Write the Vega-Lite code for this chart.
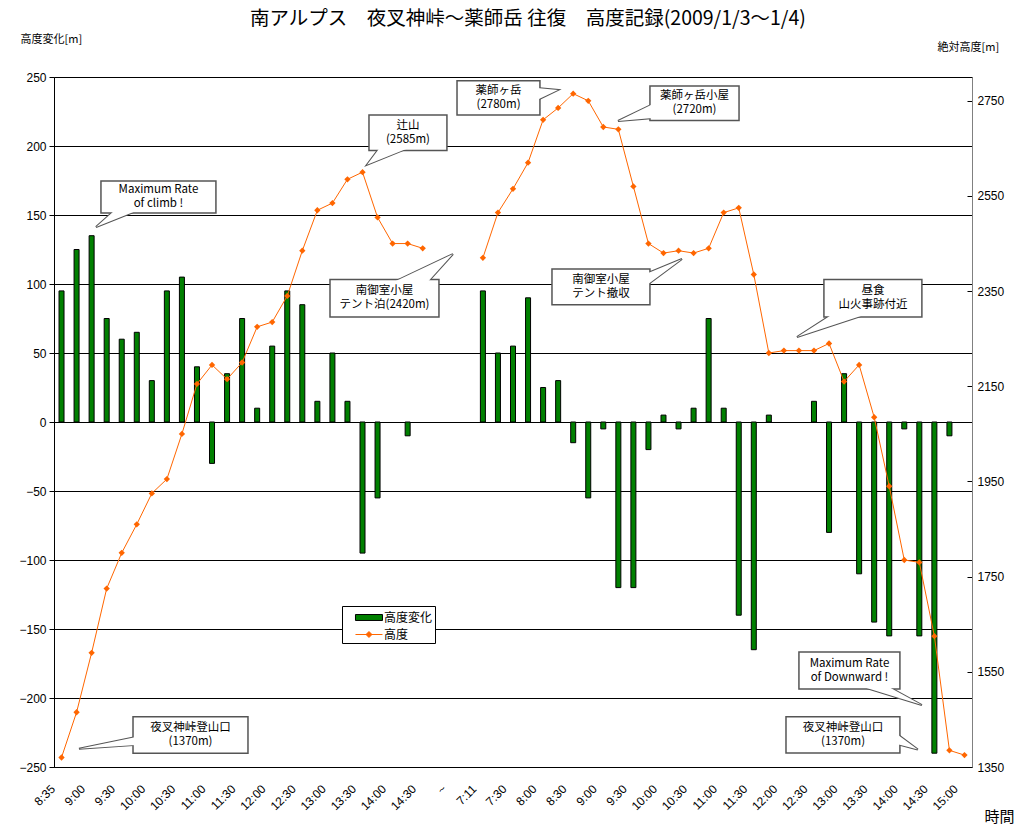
{
  "$schema": "https://vega.github.io/schema/vega-lite/v6.json",
  "width": 918,
  "height": 690,
  "autosize": {"type": "none"},
  "padding": {"left": 54, "top": 77, "right": 54, "bottom": 61},
  "background": "white",
  "title": {
    "text": "南アルプス　夜叉神峠～薬師岳 往復　高度記録(2009/1/3～1/4)",
    "frame": "group",
    "anchor": "middle",
    "baseline": "bottom",
    "offset": 6,
    "dx": 15,
    "dy": 21,
    "font": "Noto Sans CJK JP",
    "fontSize": 19.5,
    "fontWeight": "normal",
    "color": "black"
  },
  "config": {
    "font": "Noto Sans CJK JP",
    "view": {"fill": "#c6c6c6", "stroke": "#808080"}
  },
  "datasets": {
    "main": [
      {"slot": "1 8:35", "day": 1, "change": 95, "alt": 1370},
      {"slot": "1 8:45", "day": 1, "change": 125, "alt": 1465},
      {"slot": "1 9:00", "day": 1, "change": 135, "alt": 1590},
      {"slot": "1 9:15", "day": 1, "change": 75, "alt": 1725},
      {"slot": "1 9:30", "day": 1, "change": 60, "alt": 1800},
      {"slot": "1 9:45", "day": 1, "change": 65, "alt": 1860},
      {"slot": "1 10:00", "day": 1, "change": 30, "alt": 1925},
      {"slot": "1 10:15", "day": 1, "change": 95, "alt": 1955},
      {"slot": "1 10:30", "day": 1, "change": 105, "alt": 2050},
      {"slot": "1 10:45", "day": 1, "change": 40, "alt": 2155},
      {"slot": "1 11:00", "day": 1, "change": -30, "alt": 2195},
      {"slot": "1 11:15", "day": 1, "change": 35, "alt": 2165},
      {"slot": "1 11:30", "day": 1, "change": 75, "alt": 2200},
      {"slot": "1 11:45", "day": 1, "change": 10, "alt": 2275},
      {"slot": "1 12:00", "day": 1, "change": 55, "alt": 2285},
      {"slot": "1 12:15", "day": 1, "change": 95, "alt": 2340},
      {"slot": "1 12:30", "day": 1, "change": 85, "alt": 2435},
      {"slot": "1 12:45", "day": 1, "change": 15, "alt": 2520},
      {"slot": "1 13:00", "day": 1, "change": 50, "alt": 2535},
      {"slot": "1 13:15", "day": 1, "change": 15, "alt": 2585},
      {"slot": "1 13:30", "day": 1, "change": -95, "alt": 2600},
      {"slot": "1 13:45", "day": 1, "change": -55, "alt": 2505},
      {"slot": "1 14:00", "day": 1, "change": null, "alt": 2450},
      {"slot": "1 14:15", "day": 1, "change": -10, "alt": 2450},
      {"slot": "1 14:30", "day": 1, "change": null, "alt": 2440},
      {"slot": "2 7:11", "day": 2, "change": 95, "alt": 2420},
      {"slot": "2 7:20", "day": 2, "change": 50, "alt": 2515},
      {"slot": "2 7:30", "day": 2, "change": 55, "alt": 2565},
      {"slot": "2 7:45", "day": 2, "change": 90, "alt": 2620},
      {"slot": "2 8:00", "day": 2, "change": 25, "alt": 2710},
      {"slot": "2 8:15", "day": 2, "change": 30, "alt": 2735},
      {"slot": "2 8:30", "day": 2, "change": -15, "alt": 2765},
      {"slot": "2 8:45", "day": 2, "change": -55, "alt": 2750},
      {"slot": "2 9:00", "day": 2, "change": -5, "alt": 2695},
      {"slot": "2 9:15", "day": 2, "change": -120, "alt": 2690},
      {"slot": "2 9:30", "day": 2, "change": -120, "alt": 2570},
      {"slot": "2 9:45", "day": 2, "change": -20, "alt": 2450},
      {"slot": "2 10:00", "day": 2, "change": 5, "alt": 2430},
      {"slot": "2 10:15", "day": 2, "change": -5, "alt": 2435},
      {"slot": "2 10:30", "day": 2, "change": 10, "alt": 2430},
      {"slot": "2 10:45", "day": 2, "change": 75, "alt": 2440},
      {"slot": "2 11:00", "day": 2, "change": 10, "alt": 2515},
      {"slot": "2 11:15", "day": 2, "change": -140, "alt": 2525},
      {"slot": "2 11:30", "day": 2, "change": -165, "alt": 2385},
      {"slot": "2 11:45", "day": 2, "change": 5, "alt": 2220},
      {"slot": "2 12:00", "day": 2, "change": null, "alt": 2225},
      {"slot": "2 12:15", "day": 2, "change": null, "alt": 2225},
      {"slot": "2 12:30", "day": 2, "change": 15, "alt": 2225},
      {"slot": "2 12:45", "day": 2, "change": -80, "alt": 2240},
      {"slot": "2 13:00", "day": 2, "change": 35, "alt": 2160},
      {"slot": "2 13:15", "day": 2, "change": -110, "alt": 2195},
      {"slot": "2 13:30", "day": 2, "change": -145, "alt": 2085},
      {"slot": "2 13:45", "day": 2, "change": -155, "alt": 1940},
      {"slot": "2 14:00", "day": 2, "change": -5, "alt": 1785},
      {"slot": "2 14:15", "day": 2, "change": -155, "alt": 1780},
      {"slot": "2 14:30", "day": 2, "change": -240, "alt": 1625},
      {"slot": "2 14:45", "day": 2, "change": -10, "alt": 1385},
      {"slot": "2 15:00", "day": 2, "change": null, "alt": 1375}
    ],
    "boxes": [
      {"id": "b1", "x1": 2.62, "x2": 10.26, "y1": 174.6, "y2": 151.4, "cx": 6.44, "cy": 163, "label": "Maximum Rate\nof climb !"},
      {"id": "b2", "x1": 4.75, "x2": 12.39, "y1": -213.5, "y2": -240.1, "cx": 8.57, "cy": -226.8, "label": "夜叉神峠登山口\n(1370m)"},
      {"id": "b3", "x1": 20.43, "x2": 25.61, "y1": 222.5, "y2": 196.8, "cx": 23.02, "cy": 209.7, "label": "辻山\n(2585m)"},
      {"id": "b4", "x1": 17.84, "x2": 25.08, "y1": 103.3, "y2": 76.1, "cx": 21.46, "cy": 89.7, "label": "南御室小屋\nテント泊(2420m)"},
      {"id": "b5", "x1": 26.28, "x2": 31.79, "y1": 247.3, "y2": 222.5, "cx": 29.04, "cy": 234.9, "label": "薬師ヶ岳\n(2780m)"},
      {"id": "b6", "x1": 39.1, "x2": 45.02, "y1": 243.5, "y2": 218.4, "cx": 42.06, "cy": 231, "label": "薬師ヶ岳小屋\n(2720m)"},
      {"id": "b7", "x1": 32.59, "x2": 39.1, "y1": 110.9, "y2": 85, "cx": 35.85, "cy": 98, "label": "南御室小屋\nテント撤収"},
      {"id": "b8", "x1": 50.66, "x2": 57.17, "y1": 103.3, "y2": 76.1, "cx": 53.92, "cy": 89.7, "label": "昼食\n山火事跡付近"},
      {"id": "b9", "x1": 49.0, "x2": 55.71, "y1": -166.7, "y2": -193.5, "cx": 52.36, "cy": -180.1, "label": "Maximum Rate\nof Downward !"},
      {"id": "b10", "x1": 48.14, "x2": 55.71, "y1": -213.5, "y2": -239.9, "cx": 51.93, "cy": -226.7, "label": "夜叉神峠登山口\n(1370m)"}
    ],
    "tails": [
      {"id": "t1", "k": 0, "ax": 3.6, "ay": 154},
      {"id": "t1", "k": 1, "ax": 2.29, "ay": 141.3},
      {"id": "t1", "k": 2, "ax": 5.2, "ay": 154},
      {"id": "t2", "k": 0, "ax": 4.95, "ay": -228.3},
      {"id": "t2", "k": 1, "ax": 1.16, "ay": -236.7},
      {"id": "t2", "k": 2, "ax": 4.95, "ay": -234},
      {"id": "t3", "k": 0, "ax": 21.16, "ay": 199},
      {"id": "t3", "k": 1, "ax": 20.3, "ay": 186.4},
      {"id": "t3", "k": 2, "ax": 23.15, "ay": 199},
      {"id": "t4", "k": 0, "ax": 22.0, "ay": 101},
      {"id": "t4", "k": 1, "ax": 26.01, "ay": 121.7},
      {"id": "t4", "k": 2, "ax": 24.3, "ay": 101},
      {"id": "t5", "k": 0, "ax": 31.59, "ay": 242},
      {"id": "t5", "k": 1, "ax": 32.99, "ay": 240.6},
      {"id": "t5", "k": 2, "ax": 31.59, "ay": 233.3},
      {"id": "t6", "k": 0, "ax": 39.3, "ay": 230.4},
      {"id": "t6", "k": 1, "ax": 36.98, "ay": 218.1},
      {"id": "t6", "k": 2, "ax": 39.3, "ay": 220.3},
      {"id": "t7", "k": 0, "ax": 38.9, "ay": 107.6},
      {"id": "t7", "k": 1, "ax": 41.23, "ay": 118.1},
      {"id": "t7", "k": 2, "ax": 38.9, "ay": 99.3},
      {"id": "t8", "k": 0, "ax": 51.26, "ay": 78.3},
      {"id": "t8", "k": 1, "ax": 48.87, "ay": 61.6},
      {"id": "t8", "k": 2, "ax": 53.52, "ay": 78.3},
      {"id": "t9", "k": 0, "ax": 53.06, "ay": -191.3},
      {"id": "t9", "k": 1, "ax": 57.17, "ay": -205.1},
      {"id": "t9", "k": 2, "ax": 54.85, "ay": -191.3},
      {"id": "t10", "k": 0, "ax": 55.5, "ay": -226},
      {"id": "t10", "k": 1, "ax": 56.9, "ay": -237.4},
      {"id": "t10", "k": 2, "ax": 55.5, "ay": -233.3}
    ]
  },
  "layer": [
    {
      "data": {"name": "main"},
      "encoding": {
        "x": {
          "field": "slot",
          "type": "ordinal",
          "sort": null,
          "scale": {
            "domain": ["1 8:35", "1 8:45", "1 9:00", "1 9:15", "1 9:30", "1 9:45", "1 10:00", "1 10:15", "1 10:30", "1 10:45", "1 11:00", "1 11:15", "1 11:30", "1 11:45", "1 12:00", "1 12:15", "1 12:30", "1 12:45", "1 13:00", "1 13:15", "1 13:30", "1 13:45", "1 14:00", "1 14:15", "1 14:30", "1 14:45", "1 ~", "2 7:00", "2 7:11", "2 7:20", "2 7:30", "2 7:45", "2 8:00", "2 8:15", "2 8:30", "2 8:45", "2 9:00", "2 9:15", "2 9:30", "2 9:45", "2 10:00", "2 10:15", "2 10:30", "2 10:45", "2 11:00", "2 11:15", "2 11:30", "2 11:45", "2 12:00", "2 12:15", "2 12:30", "2 12:45", "2 13:00", "2 13:15", "2 13:30", "2 13:45", "2 14:00", "2 14:15", "2 14:30", "2 14:45", "2 15:00"],
            "paddingInner": 0,
            "paddingOuter": 0
          },
          "axis": {
            "values": ["1 8:35", "1 9:00", "1 9:30", "1 10:00", "1 10:30", "1 11:00", "1 11:30", "1 12:00", "1 12:30", "1 13:00", "1 13:30", "1 14:00", "1 14:30", "1 ~", "2 7:11", "2 7:30", "2 8:00", "2 8:30", "2 9:00", "2 9:30", "2 10:00", "2 10:30", "2 11:00", "2 11:30", "2 12:00", "2 12:30", "2 13:00", "2 13:30", "2 14:00", "2 14:30", "2 15:00"],
            "labelExpr": "split(datum.label, ' ')[1]",
            "labelAngle": -45,
            "labelFont": "Liberation Sans",
            "labelFontSize": 12,
            "labelColor": "black",
            "labelOverlap": false,
            "labelPadding": 16,
            "labelOffset": -12,
            "ticks": false,
            "domainColor": "black",
            "title": "時間",
            "titleFont": "Noto Sans CJK JP",
            "titleFontSize": 15,
            "titleFontWeight": "normal",
            "titleColor": "black",
            "titleAlign": "left",
            "titleBaseline": "bottom",
            "titleX": 930,
            "titleY": 57
          }
        }
      },
      "layer": [
        {
          "mark": {"type": "bar", "size": 5, "fill": "#008000", "stroke": "#000000", "strokeWidth": 1},
          "encoding": {
            "y": {
              "field": "change",
              "type": "quantitative",
              "scale": {"domain": [-250, 250], "nice": false},
              "axis": {
                "orient": "left",
                "values": [-250, -200, -150, -100, -50, 0, 50, 100, 150, 200, 250],
                "format": "d",
                "grid": true,
                "gridColor": "black",
                "gridOpacity": 1,
                "gridWidth": 1,
                "domainColor": "black",
                "tickColor": "black",
                "tickSize": 5,
                "labelFont": "Liberation Sans",
                "labelFontSize": 12,
                "labelColor": "black",
                "labelPadding": 3,
                "title": "高度変化[m]",
                "titleFont": "Noto Sans CJK JP",
                "titleFontSize": 11,
                "titleFontWeight": "normal",
                "titleColor": "black",
                "titleAngle": 0,
                "titleAlign": "left",
                "titleBaseline": "bottom",
                "titleX": -34,
                "titleY": -33
              }
            }
          }
        },
        {
          "mark": {
            "type": "line",
            "color": "#ff6600",
            "strokeWidth": 1,
            "point": {"filled": true, "shape": "diamond", "size": 40, "color": "#ff6600"}
          },
          "encoding": {
            "y": {
              "field": "alt",
              "type": "quantitative",
              "scale": {"domain": [1350, 2800], "nice": false, "zero": false},
              "axis": {
                "orient": "right",
                "values": [1350, 1550, 1750, 1950, 2150, 2350, 2550, 2750],
                "format": "d",
                "grid": false,
                "domainColor": "#808080",
                "tickColor": "black",
                "tickSize": -5,
                "labelFont": "Liberation Sans",
                "labelFontSize": 12,
                "labelColor": "black",
                "labelPadding": 10,
                "title": "絶対高度[m]",
                "titleFont": "Noto Sans CJK JP",
                "titleFontSize": 11,
                "titleFontWeight": "normal",
                "titleColor": "black",
                "titleAngle": 0,
                "titleAlign": "left",
                "titleBaseline": "bottom",
                "titleX": -35,
                "titleY": -25
              }
            },
            "detail": {"field": "day"}
          }
        }
      ],
      "resolve": {"scale": {"y": "independent"}}
    },
    {
      "layer": [
        {
          "data": {"name": "tails"},
          "mark": {"type": "line", "interpolate": "linear-closed", "fill": "white", "stroke": "#555555", "strokeWidth": 2},
          "encoding": {
            "x": {"field": "ax", "type": "quantitative", "scale": {"domain": [-0.5, 60.5], "nice": false, "zero": false}, "axis": null},
            "y": {"field": "ay", "type": "quantitative", "scale": {"domain": [-250, 250], "nice": false, "zero": false}, "axis": null},
            "detail": {"field": "id"},
            "order": {"field": "k"}
          }
        },
        {
          "data": {"name": "boxes"},
          "mark": {"type": "rect", "fill": "white", "stroke": "#555555", "strokeWidth": 1.5},
          "encoding": {
            "x": {"field": "x1", "type": "quantitative", "scale": {"domain": [-0.5, 60.5], "nice": false, "zero": false}, "axis": null},
            "x2": {"field": "x2"},
            "y": {"field": "y1", "type": "quantitative", "scale": {"domain": [-250, 250], "nice": false, "zero": false}, "axis": null},
            "y2": {"field": "y2"}
          }
        },
        {
          "data": {"name": "tails"},
          "mark": {"type": "line", "interpolate": "linear-closed", "fill": "white", "strokeWidth": 0},
          "encoding": {
            "x": {"field": "ax", "type": "quantitative", "scale": {"domain": [-0.5, 60.5], "nice": false, "zero": false}, "axis": null},
            "y": {"field": "ay", "type": "quantitative", "scale": {"domain": [-250, 250], "nice": false, "zero": false}, "axis": null},
            "detail": {"field": "id"},
            "order": {"field": "k"}
          }
        },
        {
          "data": {"name": "boxes"},
          "mark": {"type": "text", "font": "Noto Sans CJK JP", "fontSize": 11.5, "lineBreak": "\n", "lineHeight": 14, "align": "center", "baseline": "middle", "dy": -7, "color": "black"},
          "encoding": {
            "x": {"field": "cx", "type": "quantitative", "scale": {"domain": [-0.5, 60.5], "nice": false, "zero": false}, "axis": null},
            "y": {"field": "cy", "type": "quantitative", "scale": {"domain": [-250, 250], "nice": false, "zero": false}, "axis": null},
            "text": {"field": "label"}
          }
        }
      ]
    },
    {
      "data": {"values": [{"s": "高度変化"}, {"s": "高度"}]},
      "mark": {"type": "point", "filled": true, "opacity": 0},
      "encoding": {
        "color": {
          "field": "s",
          "type": "nominal",
          "scale": {"domain": ["高度変化", "高度"], "range": ["#008000", "#ff6600"]},
          "legend": {
            "title": null,
            "orient": "none",
            "legendX": 288,
            "legendY": 529,
            "direction": "vertical",
            "fillColor": "white",
            "strokeColor": "black",
            "padding": 2,
            "symbolSize": 324,
            "symbolStrokeWidth": 1,
            "symbolOpacity": 1,
            "labelFont": "Noto Sans CJK JP",
            "labelFontSize": 12,
            "labelColor": "black",
            "labelOffset": 21,
            "rowPadding": 1,
            "encode": {
              "symbols": {
                "update": {
                  "stroke": {"signal": "datum.value === '高度変化' ? '#000000' : '#ff6600'"},
                  "opacity": {"value": 1}
                }
              }
            }
          }
        },
        "shape": {
          "field": "s",
          "type": "nominal",
          "scale": {
            "domain": ["高度変化", "高度"],
            "range": ["M0.22,-0.33H3.22V0.33H0.22Z", "M0.22,0H3.22M1.39,0L1.72,-0.33L2.05,0L1.72,0.33Z"]
          },
          "legend": {
            "title": null,
            "orient": "none",
            "legendX": 288,
            "legendY": 529,
            "direction": "vertical",
            "fillColor": "white",
            "strokeColor": "black",
            "padding": 2,
            "symbolSize": 324,
            "symbolStrokeWidth": 1,
            "symbolOpacity": 1,
            "labelFont": "Noto Sans CJK JP",
            "labelFontSize": 12,
            "labelColor": "black",
            "labelOffset": 21,
            "rowPadding": 1,
            "encode": {
              "symbols": {
                "update": {
                  "stroke": {"signal": "datum.value === '高度変化' ? '#000000' : '#ff6600'"},
                  "opacity": {"value": 1}
                }
              }
            }
          }
        }
      }
    }
  ],
  "resolve": {"scale": {"x": "independent", "y": "independent"}}
}
